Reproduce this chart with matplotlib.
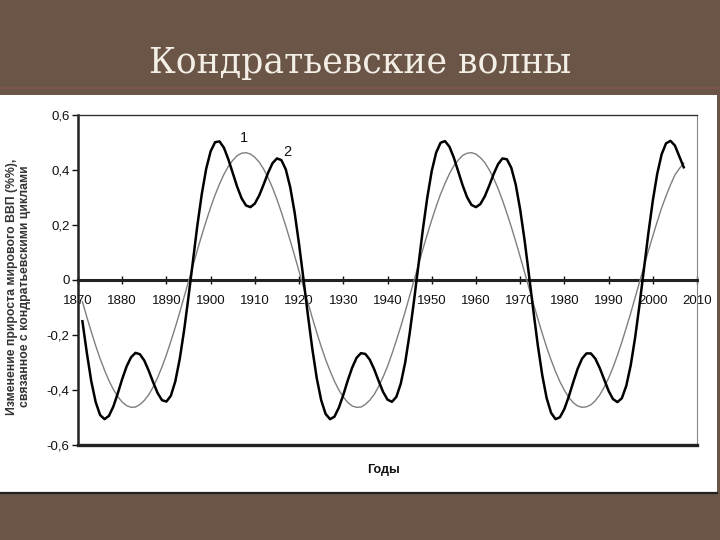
import matplotlib
matplotlib.use("Agg")
import matplotlib.pyplot as plt
from matplotlib.patches import Rectangle
from matplotlib.lines import Line2D

# ---- data ----
years = list(range(1871, 2008))

wave_1 = [  # black curve
    -0.150, -0.265, -0.368, -0.444, -0.491, -0.506, -0.494, -0.460, -0.412, -0.360,
    -0.314, -0.281, -0.265, -0.270, -0.293, -0.330, -0.372, -0.411, -0.437, -0.442,
    -0.421, -0.369, -0.288, -0.183, -0.060,
    0.071, 0.199, 0.313, 0.405, 0.468, 0.501, 0.504, 0.481, 0.439, 0.389,
    0.339, 0.297, 0.271, 0.265, 0.278, 0.308, 0.348, 0.390, 0.425, 0.442,
    0.436, 0.402, 0.337, 0.245, 0.130, 0.003,
    -0.128, -0.251, -0.357, -0.437, -0.487, -0.506, -0.497, -0.464, -0.418, -0.366,
    -0.319, -0.283, -0.266, -0.269, -0.290, -0.325, -0.367, -0.407, -0.435, -0.443,
    -0.425, -0.377, -0.300, -0.196, -0.075,
    0.055, 0.184, 0.300, 0.396, 0.463, 0.499, 0.505, 0.485, 0.445, 0.395,
    0.344, 0.301, 0.273, 0.265, 0.276, 0.304, 0.343, 0.385, 0.421, 0.442,
    0.439, 0.408, 0.347, 0.257, 0.145, 0.018,
    -0.113, -0.238, -0.346, -0.430, -0.483, -0.506, -0.499, -0.469, -0.424, -0.372,
    -0.323, -0.286, -0.267, -0.267, -0.286, -0.320, -0.362, -0.403, -0.433, -0.444,
    -0.430, -0.385, -0.311, -0.210, -0.090,
    0.040, 0.170, 0.288, 0.386, 0.457, 0.497, 0.506, 0.489, 0.450, 0.410,
]

wave_2 = [  # grey curve
    -0.079, -0.135, -0.188, -0.239, -0.286, -0.328, -0.366, -0.398, -0.424, -0.444,
    -0.457, -0.463, -0.462, -0.453, -0.438, -0.417, -0.389, -0.355, -0.316, -0.272,
    -0.223, -0.172, -0.118, -0.062, -0.005, 0.052, 0.109, 0.163, 0.215, 0.264,
    0.309, 0.349, 0.384, 0.413, 0.435, 0.452, 0.461, 0.463, 0.458, 0.446,
    0.428, 0.403, 0.372, 0.335, 0.293, 0.246, 0.196, 0.143, 0.088, 0.031, -0.026,
    -0.082, -0.138, -0.191, -0.242, -0.289, -0.330, -0.368, -0.400, -0.425, -0.445,
    -0.458, -0.463, -0.462, -0.452, -0.437, -0.416, -0.387, -0.353, -0.314, -0.269,
    -0.220, -0.169, -0.115, -0.059, -0.002, 0.055, 0.112, 0.166, 0.218, 0.267,
    0.312, 0.351, 0.386, 0.415, 0.436, 0.453, 0.461, 0.463, 0.458, 0.445,
    0.427, 0.401, 0.370, 0.333, 0.290, 0.243, 0.193, 0.140, 0.085, 0.028, -0.029,
    -0.086, -0.141, -0.194, -0.245, -0.291, -0.333, -0.370, -0.401, -0.427, -0.446,
    -0.458, -0.463,
    -0.461, -0.454, -0.439, -0.418, -0.390, -0.357, -0.318, -0.274, -0.226, -0.174,
    -0.121, -0.064, -0.007, 0.050, 0.106, 0.160, 0.212, 0.262, 0.306, 0.346,
    0.382, 0.405, 0.425,
]

x_ticks = [1870, 1880, 1890, 1900, 1910, 1920, 1930, 1940, 1950, 1960, 1970, 1980, 1990, 2000, 2010]
y_ticks = [-0.6, -0.4, -0.2, 0, 0.2, 0.4, 0.6]
y_tick_labels = ["-0,6", "-0,4", "-0,2", "0", "0,2", "0,4", "0,6"]

title = "Кондратьевские волны"
y_label_1 = "Изменение прироста мирового ВВП (%%),"
y_label_2 = "связанное с кондратьевскими циклами"
x_label = "Годы"
curve_labels = [("1", 1907.6, 0.515), ("2", 1917.4, 0.465)]

# ---- figure ----
W, H = 720, 540
fig = plt.figure(figsize=(W / 100, H / 100), dpi=100)
fig.patch.set_facecolor("#6b5546")

# white chart panel
fig.add_artist(Rectangle((0, 1 - 493 / H), 717 / W, (493 - 95) / H,
                         transform=fig.transFigure, facecolor="white",
                         edgecolor="none", zorder=0))
fig.add_artist(Line2D([0, 717 / W], [1 - 493 / H, 1 - 493 / H],
                      transform=fig.transFigure, color="#222222", lw=1.6))
fig.add_artist(Line2D([0, 1], [1 - 88 / H, 1 - 88 / H],
                      transform=fig.transFigure, color="#7d5650", lw=1.5, alpha=0.8))

fig.text(0.5, 1 - 73 / H, title, ha="center", va="baseline",
         family="DejaVu Serif", fontsize=25, color="#f3efe6")

ax = fig.add_axes([78 / W, 1 - 445 / H, (697 - 78) / W, (445 - 115) / H])
ax.set_facecolor("white")

ax.plot(years, wave_2, color="#7f7f7f", lw=1.0, zorder=3)
ax.plot(years, wave_1, color="black", lw=1.8, zorder=4)

ax.set_xlim(1870, 2010)
ax.set_ylim(-0.6, 0.6)

# spines
ax.spines["bottom"].set_position(("data", 0))
ax.spines["bottom"].set_linewidth(2.2)
ax.spines["bottom"].set_color("#222222")
ax.spines["left"].set_linewidth(1.8)
ax.spines["left"].set_color("#222222")
ax.spines["top"].set_linewidth(1.0)
ax.spines["top"].set_color("#333333")
ax.spines["right"].set_linewidth(0.8)
ax.spines["right"].set_color("#888888")
ax.axhline(-0.6, color="#222222", lw=2.4, clip_on=False, zorder=5)

ax.set_xticks(x_ticks)
ax.set_xticklabels([str(v) for v in x_ticks], family="Liberation Sans", fontsize=9.5)
ax.tick_params(axis="x", direction="inout", length=6, width=1, pad=8, colors="#111111")
ax.set_yticks(y_ticks)
ax.set_yticklabels(y_tick_labels, family="Liberation Sans", fontsize=9.5)
ax.tick_params(axis="y", direction="out", length=4, width=1, pad=2, colors="#111111")

for lbl, xv, yv in curve_labels:
    ax.text(xv, yv, lbl, ha="center", va="center", family="Liberation Sans",
            fontsize=10.5, color="#111111", zorder=6)

fig.text(12 / W, 1 - 287 / H, y_label_1, rotation=90, ha="center", va="center",
         family="Liberation Sans", fontweight="bold", fontsize=8.8, color="#333333")
fig.text(25 / W, 1 - 286 / H, y_label_2, rotation=90, ha="center", va="center",
         family="Liberation Sans", fontweight="bold", fontsize=8.8, color="#333333")
fig.text(383 / W, 1 - 470 / H, x_label, ha="center", va="center",
         family="Liberation Sans", fontweight="bold", fontsize=9, color="#111111")

fig.savefig("out.png", dpi=100, facecolor=fig.get_facecolor())
